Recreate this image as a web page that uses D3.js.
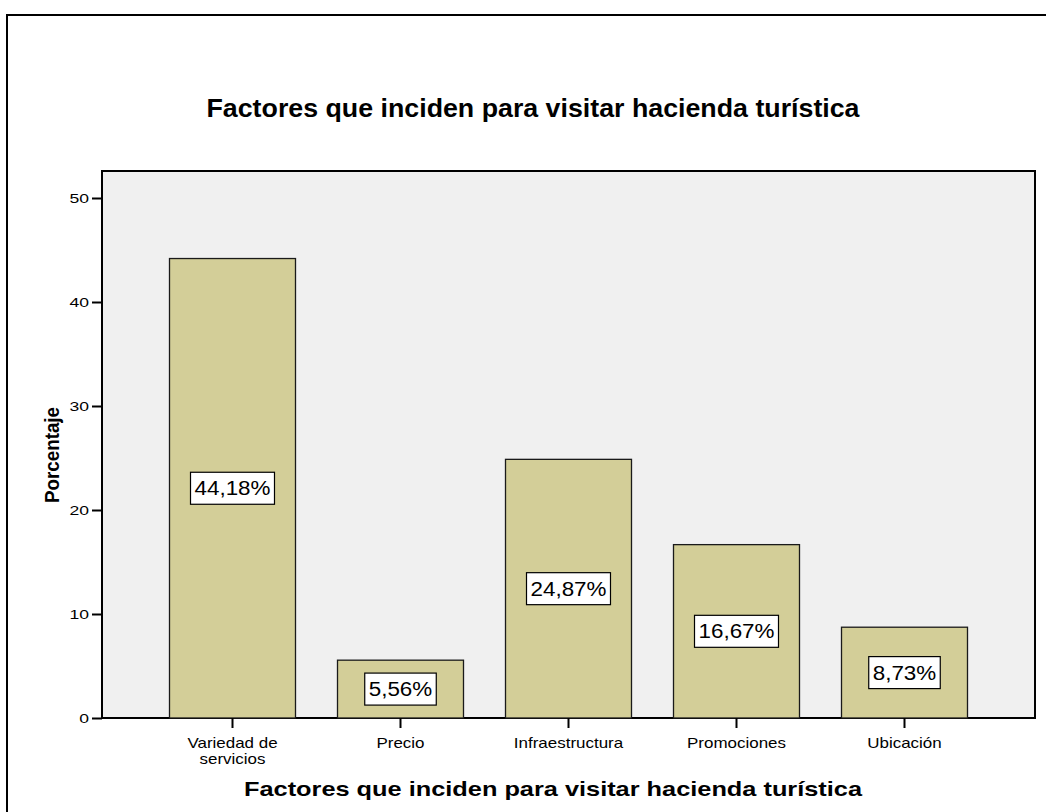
<!DOCTYPE html>
<html><head><meta charset="utf-8">
<script src="https://cdn.jsdelivr.net/npm/d3@7/dist/d3.min.js"></script>
<style>body{margin:0;background:#fff}svg{display:block}text{font-family:Arial,"Liberation Sans",sans-serif}</style>
</head><body>
<svg id="c" width="1046" height="812"></svg>
<script>
const categories = ["Variedad de servicios","Precio","Infraestructura","Promociones","Ubicación"];
const categoryLines = [["Variedad de","servicios"],["Precio"],["Infraestructura"],["Promociones"],["Ubicación"]];
const values = [44.18, 5.56, 24.87, 16.67, 8.73];
const valueLabels = ["44,18%","5,56%","24,87%","16,67%","8,73%"];
const yTicks = [0,10,20,30,40,50];
const titleText = "Factores que inciden para visitar hacienda turística";
const xTitleText = "Factores que inciden para visitar hacienda turística";
const yTitleText = "Porcentaje";

function stretch(sel, f){
  sel.each(function(){
    const w = this.getComputedTextLength();
    d3.select(this).attr("textLength", w*f).attr("lengthAdjust","spacingAndGlyphs");
  });
}

const svg = d3.select("#c");
svg.append("rect").attr("x",7).attr("y",15).attr("width",1100).attr("height",900)
  .attr("fill","#fff").attr("stroke","#000").attr("stroke-width",2);

const pl=102, pr=1035, pt=171, pb=718;
svg.append("rect").attr("x",pl).attr("y",pt).attr("width",pr-pl).attr("height",pb-pt)
  .attr("fill","#f0f0f0").attr("stroke","#000").attr("stroke-width",2);

const y = d3.scaleLinear().domain([0,50]).range([pb,198]);
const x = d3.scaleBand().domain(categories).range([pl+46.5,pr-46.5]).paddingInner(0.25).paddingOuter(0.125);

const g = svg.append("g");
g.selectAll("rect.bar").data(values).join("rect").attr("class","bar")
  .attr("x",(d,i)=>x(categories[i])).attr("width",x.bandwidth())
  .attr("y",d=>y(d)).attr("height",d=>pb-y(d))
  .attr("fill","#d3ce98").attr("stroke","#1a1a1a").attr("stroke-width",1.3);

values.forEach((v,i)=>{
  const cx = x(categories[i])+x.bandwidth()/2;
  const cy = (y(v)+pb)/2;
  const t = g.append("text").attr("x",cx).attr("y",cy+7).attr("text-anchor","middle")
    .attr("font-size",20).text(valueLabels[i]);
  const w = t.node().getComputedTextLength()*1.12;
  t.attr("textLength",w).attr("lengthAdjust","spacingAndGlyphs");
  g.insert("rect","text").attr("x",cx-w/2-4).attr("y",cy-16).attr("width",w+8).attr("height",32)
    .attr("fill","#fff").attr("stroke","#000").attr("stroke-width",1.2);
});
g.selectAll("text").raise();

const ya = svg.append("g").attr("transform",`translate(${pl},0)`)
  .call(d3.axisLeft(y).tickValues(yTicks).tickSize(10).tickFormat(d3.format("d")));
ya.select(".domain").remove();
ya.selectAll("line").attr("stroke","#000").attr("stroke-width",2);
ya.selectAll("text").attr("font-size",13).attr("fill","#000").attr("x",-13).attr("dy","0.36em");
stretch(ya.selectAll("text"),1.35);

const xa = svg.append("g").attr("transform",`translate(0,${pb})`)
  .call(d3.axisBottom(x).tickSize(10).tickFormat(""));
xa.select(".domain").remove();
xa.selectAll("line").attr("stroke","#000").attr("stroke-width",2);
xa.selectAll(".tick").each(function(d,i){
  const t = d3.select(this).append("text").attr("text-anchor","middle").attr("font-size",15).attr("fill","#000");
  categoryLines[i].forEach((ln,j)=>t.append("tspan").attr("x",0).attr("y",30+j*16).text(ln));
});
xa.selectAll(".tick tspan").each(function(){
  const w=this.getComputedTextLength();
  d3.select(this).attr("textLength",w*1.13).attr("lengthAdjust","spacingAndGlyphs");
});

const tt = svg.append("text").attr("x",533).attr("y",117).attr("text-anchor","middle")
  .attr("font-size",25).attr("font-weight","bold").text(titleText);
stretch(tt, 653/ (tt.node().getComputedTextLength()));
const xt = svg.append("text").attr("x",553).attr("y",796).attr("text-anchor","middle")
  .attr("font-size",21).attr("font-weight","bold").text(xTitleText);
stretch(xt, 618/(xt.node().getComputedTextLength()));
const yt = svg.append("text").attr("transform","translate(59,455) rotate(-90)").attr("text-anchor","middle")
  .attr("font-size",21).attr("font-weight","bold").text(yTitleText);
stretch(yt, 96/(yt.node().getComputedTextLength()));
</script>
</body></html>
